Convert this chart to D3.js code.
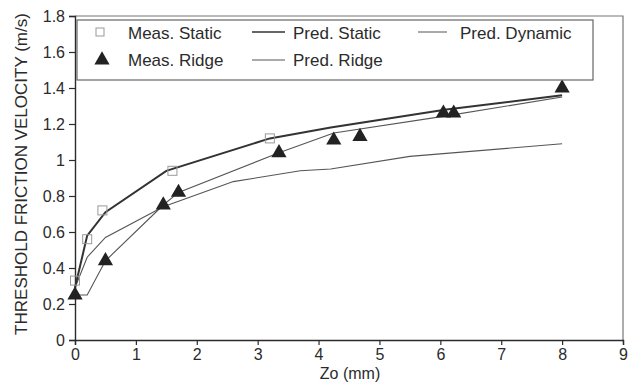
<!DOCTYPE html>
<html>
<head>
<meta charset="utf-8">
<script src="https://cdn.jsdelivr.net/npm/d3@7"></script>
<style>
  body { margin: 0; background: #fff; }
  svg { display: block; font-family: "Liberation Sans", Arial, sans-serif; }
</style>
</head>
<body>
<div id="chart"></div>
<script>
// measured points (Zo mm, u*t m/s)
var measStaticX = [0, 0.2, 0.45, 1.6, 3.2];
var measStaticY = [0.33, 0.56, 0.72, 0.94, 1.12];
var measRidgeX = [0, 0.5, 1.45, 1.7, 3.35, 4.25, 4.68, 6.05, 6.22, 8.0];
var measRidgeY = [0.25, 0.44, 0.75, 0.82, 1.04, 1.11, 1.13, 1.26, 1.26, 1.40];

// predicted curves
var predStaticX = [0, 0.2, 0.5, 1.5, 3.2, 4.2, 6.1, 8.0];
var predStaticY = [0.29, 0.58, 0.71, 0.94, 1.12, 1.18, 1.28, 1.36];
var predRidgeX = [0, 0.2, 0.5, 1.45, 1.7, 3.35, 4.25, 6.1, 8.0];
var predRidgeY = [0.25, 0.25, 0.44, 0.75, 0.82, 1.04, 1.15, 1.245, 1.35];
var predDynX = [0, 0.2, 0.5, 1.45, 2.6, 3.7, 4.2, 5.5, 8.0];
var predDynY = [0.29, 0.46, 0.57, 0.74, 0.88, 0.94, 0.95, 1.02, 1.09];

var xTicks = [0, 1, 2, 3, 4, 5, 6, 7, 8, 9];
var yTicks = [0, 0.2, 0.4, 0.6, 0.8, 1, 1.2, 1.4, 1.6, 1.8];

function zip(xs, ys) {
  return xs.map(function(x, i) { return { x: x, y: ys[i] }; });
}

var W = 628, H = 383;
var svg = d3.select("#chart").append("svg").attr("width", W).attr("height", H);

var x = d3.scaleLinear().domain([0, 9]).range([75, 623]);
var y = d3.scaleLinear().domain([0, 1.8]).range([340, 16]);

var ink = "#2b2b2b";

// frame (top + right)
svg.append("path")
  .attr("d", "M75,16H623V340")
  .attr("fill", "none").attr("stroke", "#777").attr("stroke-width", 1.2);

var yAxis = d3.axisLeft(y).tickValues(yTicks).tickSize(6).tickPadding(4)
  .tickFormat(function(d) { return d3.format("~g")(d); });
var gy = svg.append("g").attr("transform", "translate(75,0)").call(yAxis);
var xAxis = d3.axisBottom(x).tickValues(xTicks).tickSize(5).tickPadding(4);
var gx = svg.append("g").attr("transform", "translate(0,340)").call(xAxis);

[gy, gx].forEach(function(g) {
  g.select(".domain").attr("stroke", ink).attr("stroke-width", 1.4);
  g.selectAll(".tick line").attr("stroke", ink).attr("stroke-width", 1.2);
  g.selectAll(".tick text").attr("fill", ink).attr("font-size", 16)
    .attr("font-family", "Liberation Sans, Arial, sans-serif");
});

// axis titles
svg.append("text")
  .attr("transform", "translate(21,174) rotate(-90)")
  .attr("text-anchor", "middle").attr("dominant-baseline", "central")
  .attr("font-size", 17).attr("fill", ink)
  .text("THRESHOLD FRICTION VELOCITY (m/s)");
svg.append("text")
  .attr("x", 350).attr("y", 379).attr("text-anchor", "middle")
  .attr("font-size", 16).attr("fill", ink)
  .text("Zo (mm)");

var line = d3.line().x(function(d) { return x(d.x); }).y(function(d) { return y(d.y); });

svg.append("path").datum(zip(predDynX, predDynY)).attr("d", line)
  .attr("fill", "none").attr("stroke", "#555").attr("stroke-width", 1.1);
svg.append("path").datum(zip(predRidgeX, predRidgeY)).attr("d", line)
  .attr("fill", "none").attr("stroke", "#555").attr("stroke-width", 1.1);
svg.append("path").datum(zip(predStaticX, predStaticY)).attr("d", line)
  .attr("fill", "none").attr("stroke", "#333").attr("stroke-width", 2);

// measured static: open squares
svg.selectAll("rect.ms").data(zip(measStaticX, measStaticY)).enter().append("rect")
  .attr("class", "ms")
  .attr("x", function(d) { return x(d.x) - 4.5; })
  .attr("y", function(d) { return y(d.y) - 4.5; })
  .attr("width", 9).attr("height", 9)
  .attr("fill", "none").attr("stroke", "#999").attr("stroke-width", 1);

// measured ridge: filled triangles
var tri = d3.symbol().type(d3.symbolTriangle).size(100);
svg.selectAll("path.mr").data(zip(measRidgeX, measRidgeY)).enter().append("path")
  .attr("class", "mr")
  .attr("d", tri)
  .attr("transform", function(d) { return "translate(" + x(d.x) + "," + y(d.y) + ")"; })
  .attr("fill", "#222");

// legend
var leg = svg.append("g");
leg.append("rect").attr("x", 77).attr("y", 20).attr("width", 516).attr("height", 60)
  .attr("fill", "#fff").attr("stroke", "#666").attr("stroke-width", 1.2);
leg.append("rect").attr("x", 96).attr("y", 28).attr("width", 8).attr("height", 8)
  .attr("fill", "none").attr("stroke", "#999");
leg.append("path").attr("d", tri).attr("transform", "translate(102,60)").attr("fill", "#222");
leg.append("line").attr("x1", 252).attr("x2", 285).attr("y1", 32).attr("y2", 32)
  .attr("stroke", "#333").attr("stroke-width", 1.6);
leg.append("line").attr("x1", 252).attr("x2", 285).attr("y1", 60).attr("y2", 60)
  .attr("stroke", "#555").attr("stroke-width", 1);
leg.append("line").attr("x1", 418).attr("x2", 447).attr("y1", 32).attr("y2", 32)
  .attr("stroke", "#555").attr("stroke-width", 1);

var legText = [
  { t: "Meas. Static", x: 128, y: 33 },
  { t: "Meas. Ridge", x: 128, y: 60 },
  { t: "Pred. Static", x: 293, y: 33 },
  { t: "Pred. Ridge", x: 293, y: 60 },
  { t: "Pred. Dynamic", x: 460, y: 33 }
];
leg.selectAll("text").data(legText).enter().append("text")
  .attr("x", function(d) { return d.x; }).attr("y", function(d) { return d.y; })
  .attr("dominant-baseline", "central").attr("font-size", 17).attr("fill", ink)
  .text(function(d) { return d.t; });
</script>
</body>
</html>
